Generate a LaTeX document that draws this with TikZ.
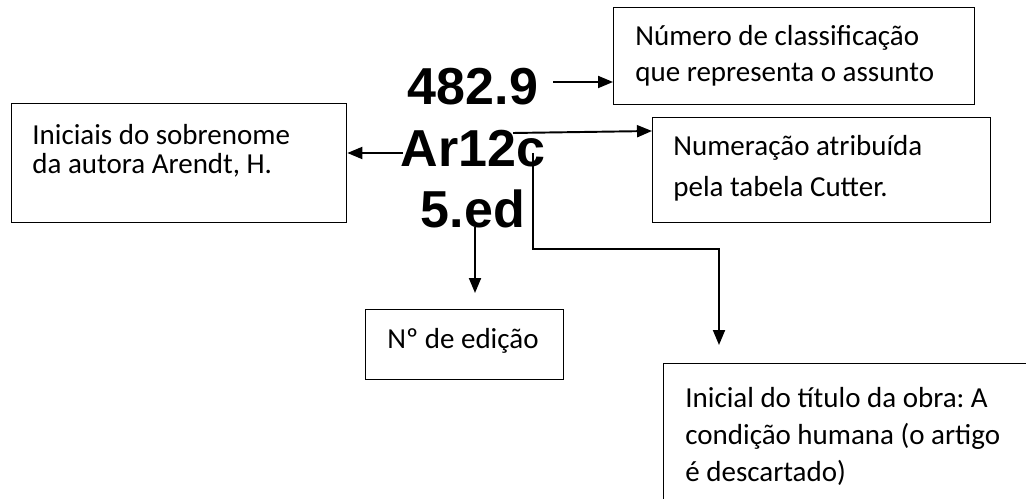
\documentclass[tikz,border=0pt]{standalone}
\usepackage{fontspec}
\setmainfont{Carlito}
\newfontfamily\callfont{Liberation Sans}
\usetikzlibrary{arrows.meta}
\frenchspacing

\begin{document}
\begin{tikzpicture}[x=0.02cm, y=-0.02cm,
        box/.style={draw, line width=0.8pt, inner sep=0pt, anchor=north west},
        note/.style={inner sep=0pt, anchor=base west, align=left},
        callno/.style={inner sep=0pt, anchor=base, font=\callfont\bfseries\fontsize{29.6}{35}\selectfont},
        arr/.style={line width=1.1pt, -{Triangle[length=0.3cm, width=0.24cm]}}]
        \useasboundingbox (0,0) rectangle (1026,499);
        \clip (0,0) rectangle (1026,499);

        % call number, one line per node
        \node[callno] (class) at (473, 105) {482.9};
        \node[callno] (cutter) at (473, 167) {Ar12c};
        \node[callno] (edition) at (473, 228) {5.ed};

        % boxes
        \node[box, minimum width=7.22cm, minimum height=1.94cm] (subject) at (613, 7) {};
        \node[box, minimum width=6.76cm, minimum height=2.1cm] (table) at (652, 117) {};
        \node[box, minimum width=6.7cm, minimum height=2.38cm] (author) at (11, 103) {};
        \node[box, minimum width=3.96cm, minimum height=1.4cm] (number) at (365, 309) {};
        \node[box, minimum width=7.54cm, minimum height=3cm] (title) at (663, 363) {};

        % texts of the boxes (base = last line)
        \node[note, font=\fontsize{16.5}{20.5}\selectfont] (subjecttext) at (635, 82)
            {Número de classificação\\que representa o assunto};
        \node[note, font=\fontsize{16.5}{23.9}\selectfont] (tabletext) at (673, 197)
            {Numeração atribuída\\pela tabela Cutter.};
        \node[note, font=\fontsize{16.5}{17}\selectfont] (authortext) at (32, 174)
            {Iniciais do sobrenome\\da autora Arendt, H.};
        \node[note, font=\fontsize{16.5}{20}\selectfont] (numbertext) at (387, 348)
            {Nº de edição};
        \node[note, font=\fontsize{16.5}{21}\selectfont] (titletext) at (685, 481)
            {Inicial do título da obra: A\\condição humana (o artigo\\é descartado)};

        % ends of the connectors
        \coordinate (s1) at (553, 82);
        \coordinate (s2) at (513, 133);
        \coordinate (s3) at (403, 153);
        \coordinate (s4) at (475, 227);
        \coordinate (e4) at (475, 293);
        \coordinate (s5) at (533, 153);
        \coordinate (k5) at (719, 249);
        \coordinate (e5) at (719, 345);

        \draw[arr] (s1) -- (s1 -| subject.west);
        \draw[arr] (s2) -- ([yshift=-0.28cm]table.north west);
        \draw[arr] (s3) -- (s3 -| author.east);
        \draw[arr] (s4) -- (e4);
        \draw[arr] (s5) |- (k5) -- (e5);
    \end{tikzpicture}
\end{document}
